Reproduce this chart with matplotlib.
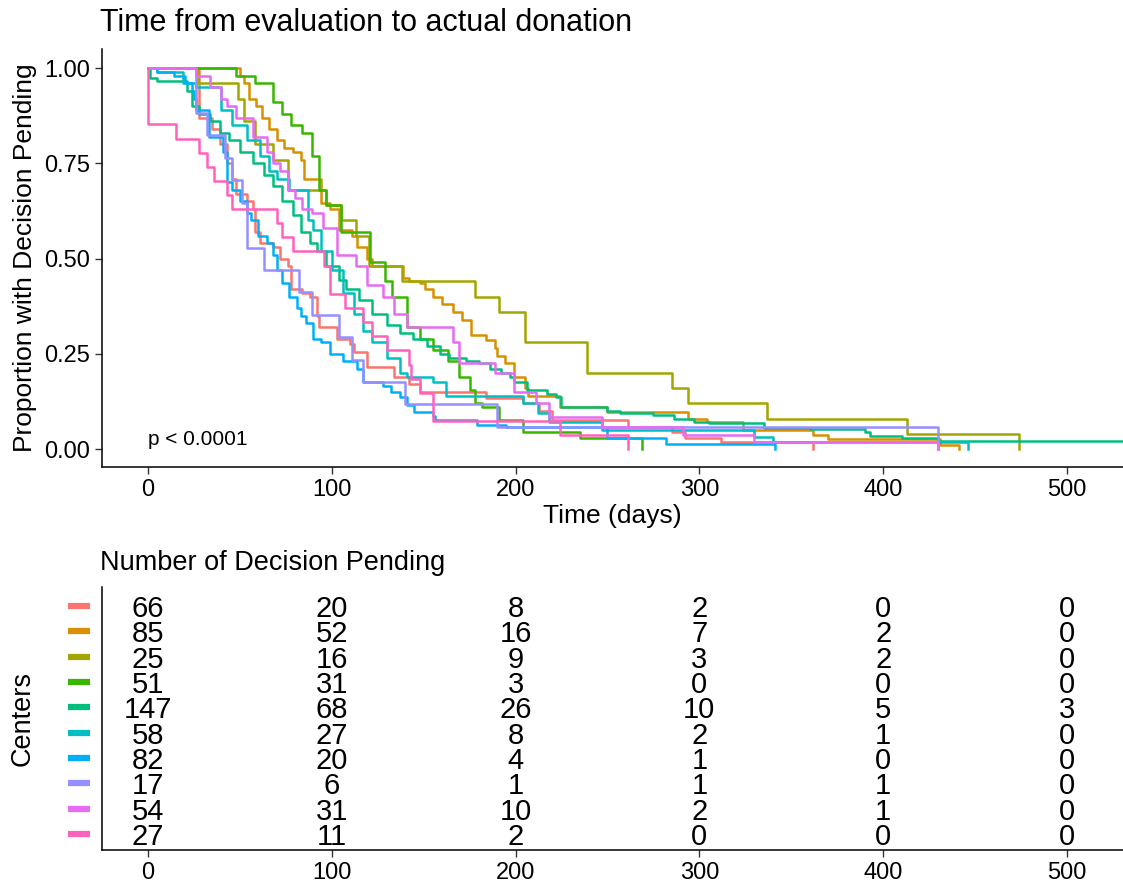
import matplotlib
matplotlib.use("Agg")
import matplotlib.pyplot as plt
import matplotlib.transforms as mtransforms

plt.rcParams['font.family'] = ['Liberation Sans', 'DejaVu Sans']

colors = ['#F8766D', '#D89000', '#A3A500', '#39B600', '#00BF7D',
          '#00BFC4', '#00B0F6', '#9590FF', '#E76BF3', '#FF62BC']

# Kaplan-Meier steps (days, proportion pending)
t1 = [0, 28, 35, 39, 43, 46, 48, 54, 57, 58, 61, 68, 72, 76, 78, 84, 88, 92, 93, 103, 110, 112, 119, 134, 142, 148, 184, 204, 213, 220, 261, 285, 292, 312, 362]
s1 = [1.0, 0.87, 0.84, 0.80, 0.75, 0.71, 0.67, 0.65, 0.63, 0.57, 0.54, 0.53, 0.50, 0.48, 0.42, 0.41, 0.40, 0.35, 0.32, 0.29, 0.275, 0.255, 0.215, 0.19, 0.17, 0.15, 0.134, 0.12, 0.10, 0.076, 0.058, 0.045, 0.03, 0.018, 0.0]

t2 = [0, 50, 52, 55, 59, 62, 66, 70, 74, 79, 83, 85, 94, 99, 104, 111, 114, 119, 122, 139, 142, 148, 151, 155, 160, 166, 171, 176, 184, 189, 190, 194, 199, 205, 207, 224, 250, 294, 304, 324, 362, 370, 431, 441]
s2 = [1.0, 0.98, 0.96, 0.92, 0.90, 0.87, 0.84, 0.81, 0.79, 0.78, 0.76, 0.71, 0.645, 0.63, 0.575, 0.56, 0.53, 0.50, 0.48, 0.45, 0.44, 0.435, 0.42, 0.40, 0.38, 0.36, 0.34, 0.30, 0.285, 0.265, 0.245, 0.225, 0.19, 0.16, 0.14, 0.11, 0.097, 0.08, 0.07, 0.05, 0.037, 0.026, 0.012, 0.0]

t3 = [0, 27, 49, 52, 58, 68, 76, 97, 105, 113, 120, 138, 178, 191, 205, 239, 285, 294, 337, 413, 474]
s3 = [1.0, 0.96, 0.92, 0.86, 0.80, 0.76, 0.68, 0.64, 0.60, 0.56, 0.48, 0.44, 0.40, 0.36, 0.28, 0.20, 0.16, 0.12, 0.08, 0.04, 0.0]

t4 = [0, 48, 58, 68, 73, 78, 84, 89, 93, 97, 105, 121, 129, 133, 141, 148, 155, 163, 169, 175, 178, 182, 191, 204, 235, 269]
s4 = [1.0, 0.98, 0.96, 0.91, 0.88, 0.85, 0.83, 0.77, 0.68, 0.64, 0.57, 0.49, 0.44, 0.40, 0.32, 0.29, 0.26, 0.23, 0.19, 0.155, 0.12, 0.11, 0.076, 0.045, 0.028, 0.0]

t5 = [0, 1, 5, 21, 24, 28, 34, 39, 44, 50, 57, 63, 68, 73, 79, 83, 88, 92, 97, 104, 108, 115, 122, 130, 137, 144, 152, 159, 164, 173, 180, 186, 192, 197, 199, 206, 217, 222, 225, 250, 257, 275, 286, 297, 305, 335, 360, 390, 393, 410, 430, 535]
s5 = [1.0, 0.975, 0.965, 0.94, 0.90, 0.88, 0.86, 0.83, 0.81, 0.78, 0.75, 0.72, 0.69, 0.65, 0.615, 0.57, 0.54, 0.52, 0.48, 0.445, 0.42, 0.39, 0.355, 0.325, 0.305, 0.29, 0.27, 0.25, 0.24, 0.23, 0.225, 0.21, 0.20, 0.19, 0.175, 0.155, 0.145, 0.137, 0.11, 0.10, 0.095, 0.09, 0.08, 0.072, 0.068, 0.055, 0.052, 0.045, 0.035, 0.028, 0.021, 0.021]

t6 = [0, 5, 19, 26, 40, 46, 54, 61, 66, 70, 77, 87, 90, 94, 100, 106, 112, 117, 122, 130, 137, 141, 155, 162, 204, 212, 218, 247, 330, 340, 446]
s6 = [1.0, 0.99, 0.96, 0.95, 0.89, 0.85, 0.81, 0.77, 0.73, 0.71, 0.68, 0.60, 0.575, 0.52, 0.47, 0.41, 0.355, 0.31, 0.28, 0.24, 0.20, 0.19, 0.175, 0.14, 0.12, 0.094, 0.07, 0.05, 0.031, 0.018, 0.0]

t7 = [0, 5, 14, 20, 24, 25, 26, 33, 41, 43, 46, 50, 54, 56, 60, 65, 68, 70, 73, 77, 81, 83, 86, 90, 94, 99, 106, 114, 117, 128, 132, 137, 141, 145, 155, 156, 179, 195, 250, 282, 341]
s7 = [1.0, 0.99, 0.98, 0.96, 0.94, 0.92, 0.89, 0.82, 0.78, 0.70, 0.68, 0.65, 0.62, 0.60, 0.56, 0.54, 0.51, 0.47, 0.435, 0.40, 0.37, 0.35, 0.33, 0.29, 0.28, 0.25, 0.23, 0.21, 0.175, 0.165, 0.15, 0.137, 0.115, 0.097, 0.088, 0.076, 0.063, 0.058, 0.03, 0.014, 0.0]

t8 = [0, 26, 32, 42, 46, 51, 54, 63, 82, 89, 104, 111, 117, 140, 190, 430]
s8 = [1.0, 0.882, 0.824, 0.765, 0.706, 0.647, 0.529, 0.471, 0.412, 0.353, 0.294, 0.235, 0.176, 0.118, 0.059, 0.0]

t9 = [0, 26, 34, 40, 43, 48, 57, 65, 68, 72, 76, 80, 84, 89, 95, 103, 113, 119, 128, 134, 141, 166, 169, 189, 199, 211, 218, 247, 291, 330, 430]
s9 = [1.0, 0.98, 0.95, 0.92, 0.90, 0.87, 0.82, 0.78, 0.75, 0.73, 0.68, 0.66, 0.63, 0.62, 0.58, 0.51, 0.48, 0.43, 0.40, 0.355, 0.32, 0.28, 0.225, 0.20, 0.15, 0.12, 0.085, 0.058, 0.037, 0.018, 0.0]

t10 = [0, 0, 15, 28, 32, 36, 43, 46, 70, 73, 79, 96, 99, 107, 117, 122, 130, 142, 143, 148, 155, 224, 261]
s10 = [1.0, 0.852, 0.815, 0.778, 0.741, 0.704, 0.667, 0.63, 0.593, 0.556, 0.519, 0.481, 0.407, 0.37, 0.333, 0.296, 0.259, 0.222, 0.185, 0.148, 0.074, 0.037, 0.0]

times = [t1, t2, t3, t4, t5, t6, t7, t8, t9, t10]
survs = [s1, s2, s3, s4, s5, s6, s7, s8, s9, s10]

risk_times = [0, 100, 200, 300, 400, 500]
at_risk = [
    [66, 20, 8, 2, 0, 0],
    [85, 52, 16, 7, 2, 0],
    [25, 16, 9, 3, 2, 0],
    [51, 31, 3, 0, 0, 0],
    [147, 68, 26, 10, 5, 3],
    [58, 27, 8, 2, 1, 0],
    [82, 20, 4, 1, 0, 0],
    [17, 6, 1, 1, 1, 0],
    [54, 31, 10, 2, 1, 0],
    [27, 11, 2, 0, 0, 0],
]

W, H = 1123, 885
fig = plt.figure(figsize=(W / 100, H / 100), dpi=100)

xlim = (-25, 530.5)
ax = fig.add_axes([102 / W, 1 - 467 / H, (W - 102) / W, (467 - 49) / H])
for t, s, c in zip(times, survs, colors):
    ax.step(t, s, where='post', color=c, lw=1.8)
ax.set_xlim(*xlim)
ax.set_ylim(-0.047, 1.05)
ax.set_xticks(risk_times)
ax.set_yticks([0, 0.25, 0.5, 0.75, 1.0])
ax.set_yticklabels(['0.00', '0.25', '0.50', '0.75', '1.00'])
for side in ['top', 'right']:
    ax.spines[side].set_visible(False)
for side in ['left', 'bottom']:
    ax.spines[side].set_linewidth(1.1)
ax.tick_params(labelsize=17, length=5, width=1.0, color='#333333')
ax.set_xlabel('Time (days)', fontsize=19, labelpad=2)
ax.set_ylabel('Proportion with Decision Pending', fontsize=19, labelpad=5)
ax.text(0, 0.025, 'p < 0.0001', fontsize=15, ha='left', va='center')
fig.text(100 / W, 1 - 23 / H, 'Time from evaluation to actual donation',
         fontsize=22, ha='left', va='center')

# risk table
ax2 = fig.add_axes([102 / W, 1 - 850 / H, (W - 102) / W, (850 - 587) / H])
ax2.set_xlim(*xlim)
ax2.set_ylim(0.368, 10.75)
n = len(at_risk)
trans = mtransforms.blended_transform_factory(ax2.transAxes, ax2.transData)
for i, row in enumerate(at_risk):
    y = n - i
    for x, v in zip(risk_times, row):
        ax2.text(x, y, str(v), fontsize=21, ha='center', va='center_baseline')
    ax2.plot([-0.0333, -0.0118], [y, y], transform=trans, clip_on=False,
             color=colors[i], lw=4.5, solid_capstyle='butt')
ax2.set_xticks(risk_times)
ax2.set_yticks([])
for side in ['top', 'right']:
    ax2.spines[side].set_visible(False)
for side in ['left', 'bottom']:
    ax2.spines[side].set_linewidth(1.1)
ax2.tick_params(labelsize=17, length=5, width=1.0, color='#333333')
ax2.set_ylabel('Centers', fontsize=19.5, labelpad=48)
fig.text(100 / W, 1 - 563 / H, 'Number of Decision Pending',
         fontsize=19.5, ha='left', va='center')

fig.savefig('out.png', dpi=100)
